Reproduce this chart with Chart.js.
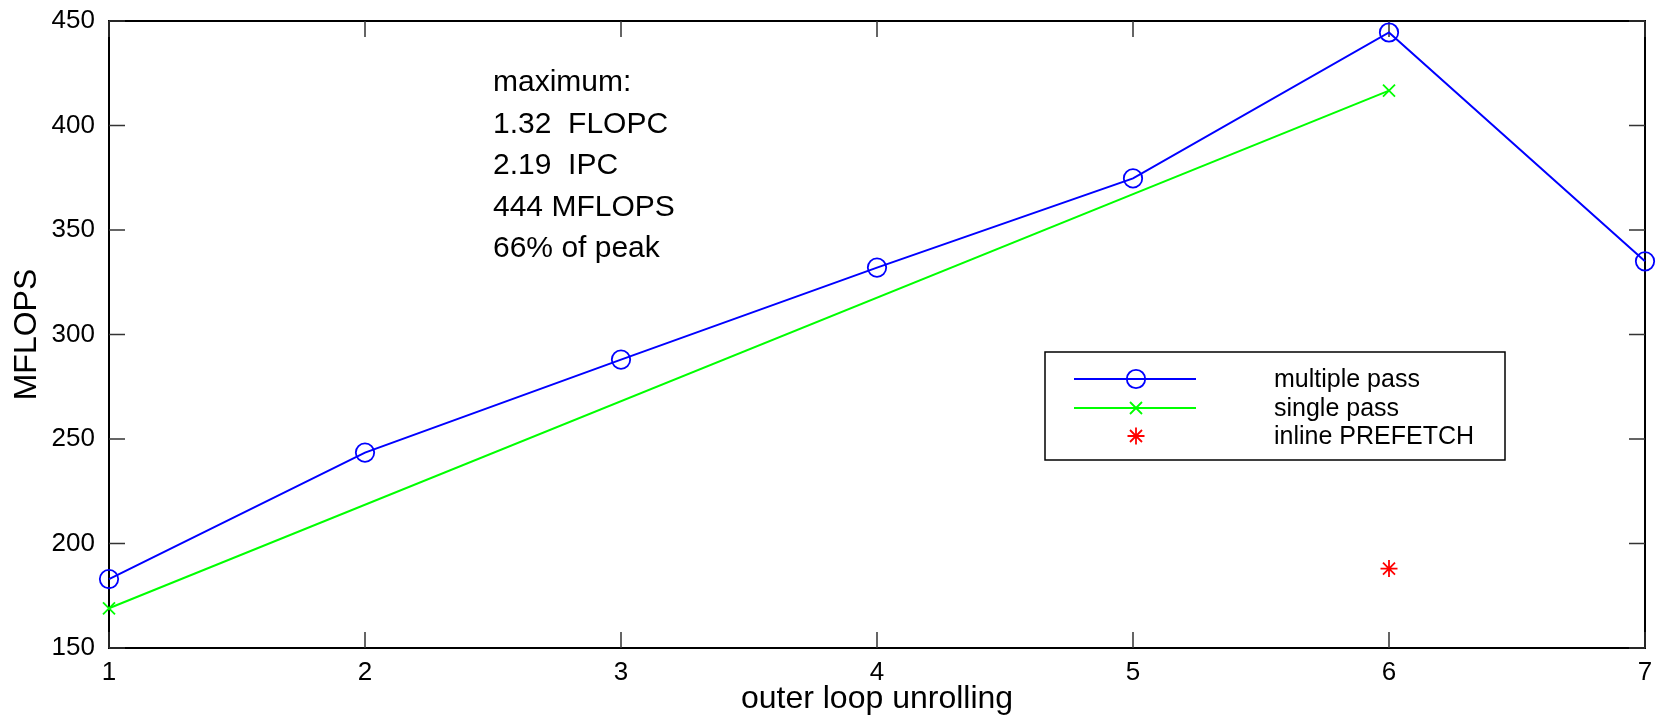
<!DOCTYPE html>
<html>
<head>
<meta charset="utf-8">
<script src="https://cdn.jsdelivr.net/npm/chart.js@4/dist/chart.umd.min.js"></script>
<style>
  html, body { margin: 0; padding: 0; background: #fff; }
  canvas { display: block; }
</style>
</head>
<body>
<canvas id="chart" width="1656" height="718"></canvas>
<script>
const unrolling = [1, 2, 3, 4, 5, 6, 7];
const multiplePass = [183, 243.5, 288, 332, 374.7, 444.5, 335];
const singlePass = [169, null, null, null, null, 416.7, null];
const inlinePrefetch = [null, null, null, null, null, 188, null];
const yTicks = [150, 200, 250, 300, 350, 400, 450];
const noteLines = ["maximum:", "1.32  FLOPC", "2.19  IPC", "444 MFLOPS", "66% of peak"];

const FONT = "'Liberation Sans', Arial, sans-serif";

function toPoints(values) {
  return unrolling.map((x, i) => ({ x: x, y: values[i] }));
}

// box round the plot, inward ticks on all four sides
const frame = {
  id: "frame",
  beforeDatasetsDraw(chart) {
    const { ctx, chartArea: a, scales } = chart;
    ctx.save();
    ctx.strokeStyle = "#000";
    ctx.lineWidth = 2;
    ctx.strokeRect(a.left, a.top, a.right - a.left, a.bottom - a.top);
    ctx.strokeStyle = "#333";
    ctx.lineWidth = 1.5;
    ctx.beginPath();
    scales.x.ticks.forEach(t => {
      const px = scales.x.getPixelForValue(t.value);
      ctx.moveTo(px, a.bottom); ctx.lineTo(px, a.bottom - 16);
      ctx.moveTo(px, a.top); ctx.lineTo(px, a.top + 16);
    });
    scales.y.ticks.forEach(t => {
      const py = scales.y.getPixelForValue(t.value);
      ctx.moveTo(a.left, py); ctx.lineTo(a.left + 16, py);
      ctx.moveTo(a.right, py); ctx.lineTo(a.right - 16, py);
    });
    ctx.stroke();
    ctx.restore();
  },
  afterDraw(chart) {
    const ctx = chart.ctx;
    ctx.save();
    // note text
    ctx.fillStyle = "#000";
    ctx.font = "30px " + FONT;
    ctx.textAlign = "left";
    ctx.textBaseline = "alphabetic";
    noteLines.forEach((s, i) => ctx.fillText(s, 493, 91 + i * 41.5));

    // legend box
    ctx.strokeStyle = "#000";
    ctx.lineWidth = 1.5;
    ctx.strokeRect(1045, 352, 460, 108);
    const rows = [379, 408, 436];
    chart.data.datasets.forEach((ds, i) => {
      const y = rows[i];
      if (ds.showLine !== false) {
        ctx.strokeStyle = ds.borderColor;
        ctx.lineWidth = ds.borderWidth;
        ctx.beginPath();
        ctx.moveTo(1074, y); ctx.lineTo(1196, y);
        ctx.stroke();
      }
      ctx.strokeStyle = ds.pointBorderColor;
      ctx.fillStyle = "rgba(0,0,0,0)";
      ctx.lineWidth = ds.pointBorderWidth;
      Chart.helpers.drawPoint(ctx, {
        pointStyle: ds.pointStyle,
        radius: ds.legendRadius,
        borderWidth: ds.pointBorderWidth
      }, 1136, y);
      ctx.fillStyle = "#000";
      ctx.font = "25px " + FONT;
      ctx.textBaseline = "middle";
      ctx.fillText(ds.label, 1274, y + 1);
    });
    ctx.restore();
  }
};

new Chart(document.getElementById("chart"), {
  type: "line",
  data: {
    datasets: [
      {
        label: "multiple pass",
        data: toPoints(multiplePass),
        borderColor: "#0000ff",
        borderWidth: 2,
        pointStyle: "circle",
        pointRadius: 9.2,
        legendRadius: 9.2,
        pointBorderColor: "#0000ff",
        pointBackgroundColor: "rgba(0,0,0,0)",
        pointBorderWidth: 1.8,
        tension: 0,
        clip: false
      },
      {
        label: "single pass",
        data: toPoints(singlePass),
        borderColor: "#00ff00",
        borderWidth: 2,
        pointStyle: "crossRot",
        pointRadius: 8.5,
        legendRadius: 8.5,
        pointBorderColor: "#00ff00",
        pointBorderWidth: 1.8,
        spanGaps: true,
        tension: 0,
        clip: false
      },
      {
        label: "inline PREFETCH",
        data: toPoints(inlinePrefetch),
        borderColor: "#ff0000",
        showLine: false,
        pointStyle: "star",
        pointRadius: 8.5,
        legendRadius: 8.5,
        pointBorderColor: "#ff0000",
        pointBorderWidth: 1.8,
        clip: false
      }
    ]
  },
  options: {
    responsive: false,
    devicePixelRatio: 1,
    animation: false,
    events: [],
    layout: { padding: { top: 21, right: 6, left: 0, bottom: 0 } },
    plugins: {
      legend: { display: false },
      tooltip: { enabled: false }
    },
    scales: {
      x: {
        type: "linear",
        min: 1,
        max: 7,
        afterFit: s => { s.height = 70; s.paddingLeft = 0; s.paddingRight = 0; },
        afterBuildTicks: s => { s.ticks = unrolling.map(v => ({ value: v })); },
        grid: { display: false, drawTicks: false },
        border: { display: false },
        ticks: { color: "#000", padding: 9, font: { family: FONT, size: 26 } },
        title: {
          display: true,
          text: "outer loop unrolling",
          color: "#000",
          padding: { top: 0, bottom: 0 },
          font: { family: FONT, size: 32 }
        }
      },
      y: {
        min: 150,
        max: 450,
        afterFit: s => { s.width = 109; s.paddingTop = 0; s.paddingBottom = 0; },
        afterBuildTicks: s => { s.ticks = yTicks.map(v => ({ value: v })); },
        grid: { display: false, drawTicks: false },
        border: { display: false },
        ticks: { color: "#000", padding: 14, font: { family: FONT, size: 26 } },
        title: {
          display: true,
          text: "MFLOPS",
          color: "#000",
          padding: { top: 8, bottom: 0 },
          font: { family: FONT, size: 32 }
        }
      }
    }
  },
  plugins: [frame]
});
</script>
</body>
</html>
